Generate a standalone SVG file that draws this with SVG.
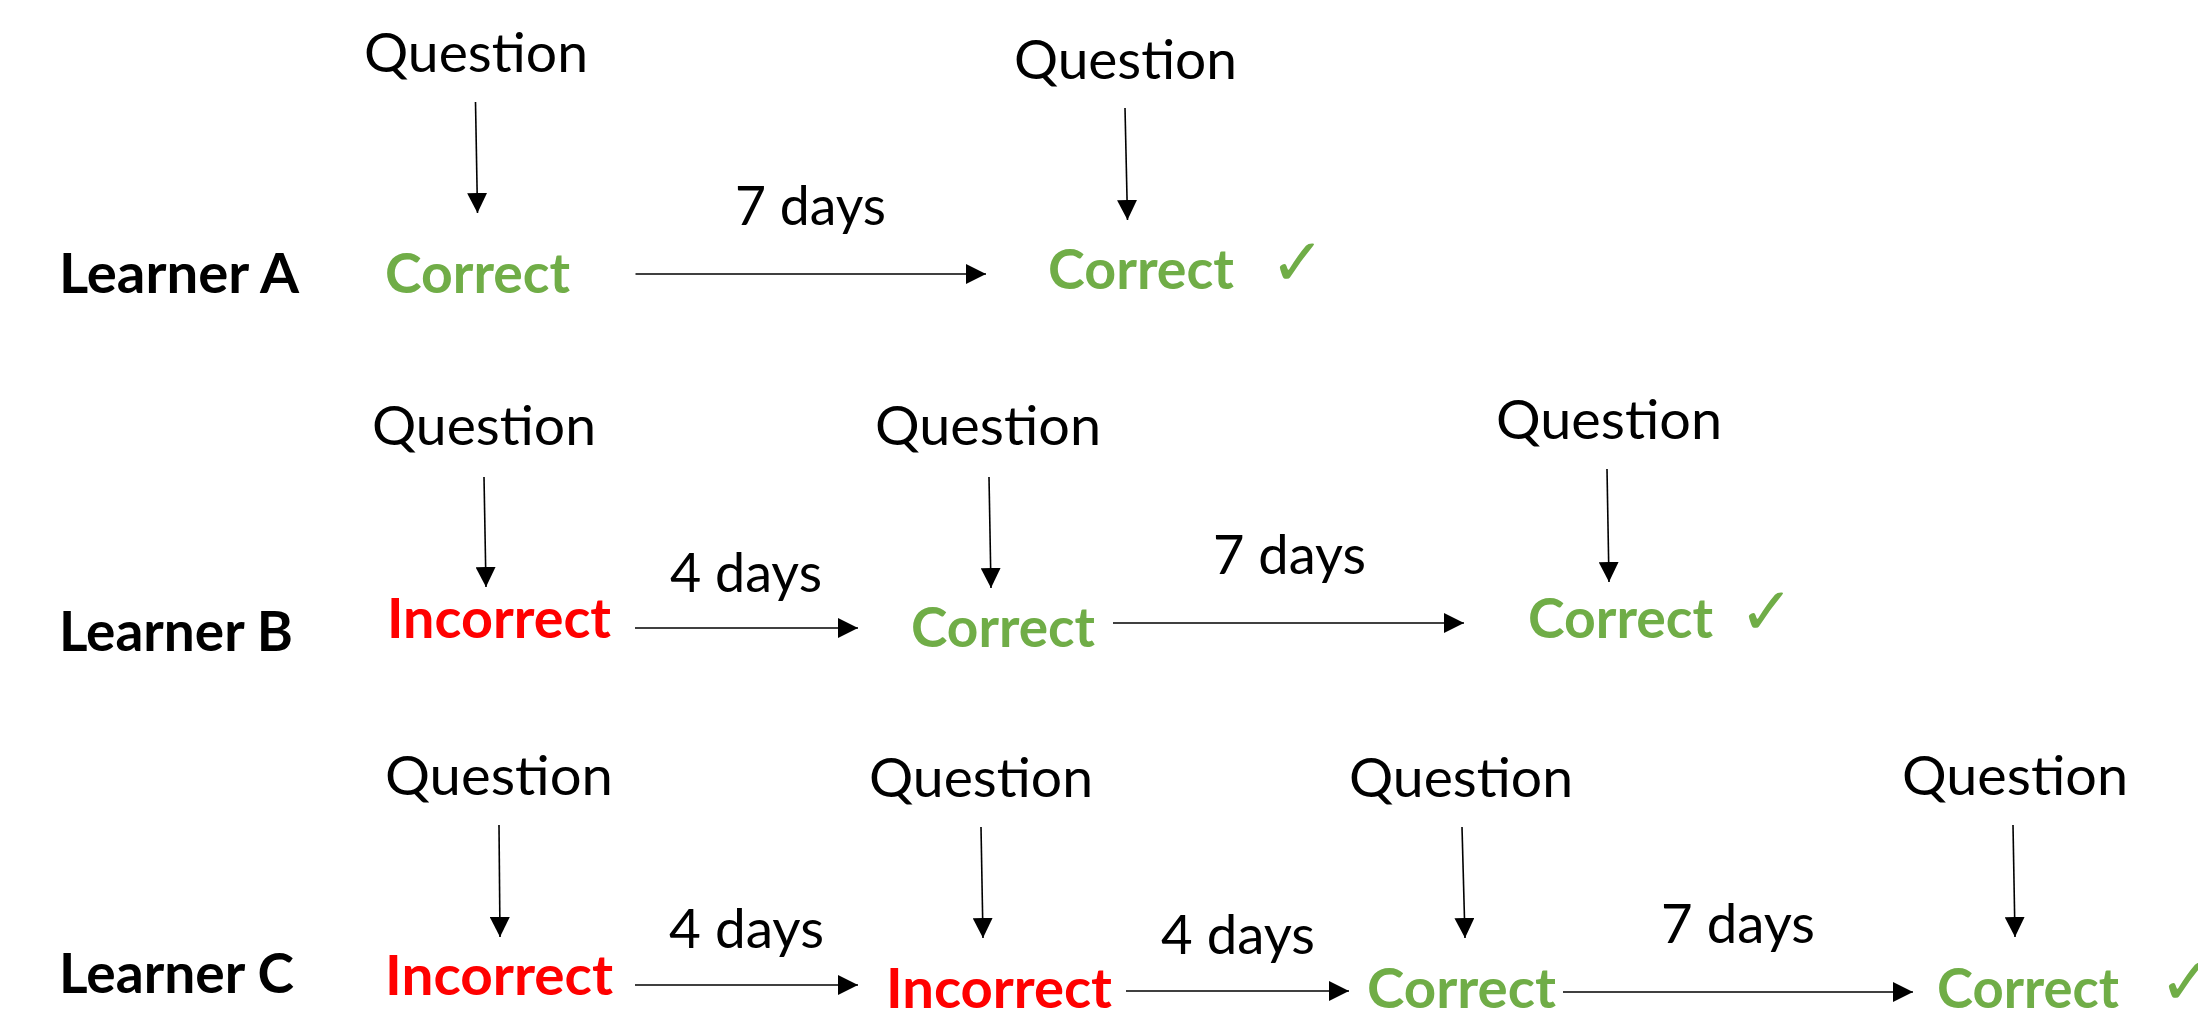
<svg xmlns="http://www.w3.org/2000/svg" width="2198" height="1013" viewBox="0 0 2198 1013">
<style>
text{font-family:Lato,"Liberation Sans",sans-serif;font-size:55px}
.q,.d{fill:#000}
.l{font-weight:bold;fill:#000}
.ok{font-weight:bold;fill:#70AD47}
.bad{font-weight:bold;fill:#FF0000}
.chk{font-family:"DejaVu Sans",sans-serif;font-size:66px;fill:#70AD47}
.c line{stroke:#000;stroke-width:1.6;marker-end:url(#ah)}
</style>
<defs>
<marker id="ah" markerUnits="userSpaceOnUse" markerWidth="20" markerHeight="20" refX="20" refY="10" orient="auto">
<path d="M0,0 L20,10 L0,20 Z" fill="#000"/>
</marker>
</defs>
<rect width="2198" height="1013" fill="#fff"/>
<g id="connectors" class="c">
<line x1="475.5" y1="102" x2="477.5" y2="213"/>
<line x1="1125" y1="108" x2="1127.5" y2="220"/>
<line x1="635.5" y1="274" x2="986" y2="274"/>
<line x1="484" y1="477" x2="486" y2="587"/>
<line x1="989" y1="477" x2="991" y2="588"/>
<line x1="1607" y1="469" x2="1609" y2="582"/>
<line x1="635" y1="628" x2="858" y2="628"/>
<line x1="1113" y1="623" x2="1464" y2="623"/>
<line x1="499" y1="825" x2="500" y2="937"/>
<line x1="981" y1="827" x2="983" y2="938"/>
<line x1="1462" y1="827" x2="1465" y2="938"/>
<line x1="2013" y1="825" x2="2015" y2="937"/>
<line x1="635" y1="985" x2="858" y2="985"/>
<line x1="1126" y1="991" x2="1349" y2="991"/>
<line x1="1563" y1="992" x2="1913" y2="992"/>
</g>
<g id="rowA">
<g id="learnerA"><text class="l" x="59" y="293" textLength="240" lengthAdjust="spacingAndGlyphs">Learner A</text></g>
<g id="qA1"><text class="q" x="364" y="72" textLength="224" lengthAdjust="spacingAndGlyphs">Question</text></g>
<g id="rA1"><text class="ok" x="385" y="293" textLength="185" lengthAdjust="spacingAndGlyphs">Correct</text></g>
<g id="dA1"><text class="d" x="735" y="225" textLength="151" lengthAdjust="spacingAndGlyphs">7 days</text></g>
<g id="qA2"><text class="q" x="1014" y="79" textLength="223" lengthAdjust="spacingAndGlyphs">Question</text></g>
<g id="rA2"><text class="ok" x="1048" y="289" textLength="186" lengthAdjust="spacingAndGlyphs">Correct</text><text class="chk" x="1270" y="285">✓</text></g>
</g>
<g id="rowB">
<g id="learnerB"><text class="l" x="59" y="651" textLength="234" lengthAdjust="spacingAndGlyphs">Learner B</text></g>
<g id="qB1"><text class="q" x="372" y="445" textLength="224" lengthAdjust="spacingAndGlyphs">Question</text></g>
<g id="rB1"><text class="bad" x="387" y="638" textLength="224" lengthAdjust="spacingAndGlyphs">Incorrect</text></g>
<g id="dB1"><text class="d" x="670" y="592" textLength="152" lengthAdjust="spacingAndGlyphs">4 days</text></g>
<g id="qB2"><text class="q" x="875" y="445" textLength="226" lengthAdjust="spacingAndGlyphs">Question</text></g>
<g id="rB2"><text class="ok" x="911" y="647" textLength="184" lengthAdjust="spacingAndGlyphs">Correct</text></g>
<g id="dB2"><text class="d" x="1213" y="574" textLength="153" lengthAdjust="spacingAndGlyphs">7 days</text></g>
<g id="qB3"><text class="q" x="1496" y="439" textLength="226" lengthAdjust="spacingAndGlyphs">Question</text></g>
<g id="rB3"><text class="ok" x="1528" y="638" textLength="185" lengthAdjust="spacingAndGlyphs">Correct</text><text class="chk" x="1739" y="634">✓</text></g>
</g>
<g id="rowC">
<g id="learnerC"><text class="l" x="59" y="993" textLength="235" lengthAdjust="spacingAndGlyphs">Learner C</text></g>
<g id="qC1"><text class="q" x="385" y="795" textLength="228" lengthAdjust="spacingAndGlyphs">Question</text></g>
<g id="rC1"><text class="bad" x="385" y="995" textLength="228" lengthAdjust="spacingAndGlyphs">Incorrect</text></g>
<g id="dC1"><text class="d" x="669" y="948" textLength="155" lengthAdjust="spacingAndGlyphs">4 days</text></g>
<g id="qC2"><text class="q" x="869" y="797" textLength="224" lengthAdjust="spacingAndGlyphs">Question</text></g>
<g id="rC2"><text class="bad" x="886" y="1008" textLength="226" lengthAdjust="spacingAndGlyphs">Incorrect</text></g>
<g id="dC2"><text class="d" x="1161" y="954" textLength="154" lengthAdjust="spacingAndGlyphs">4 days</text></g>
<g id="qC3"><text class="q" x="1349" y="797" textLength="224" lengthAdjust="spacingAndGlyphs">Question</text></g>
<g id="rC3"><text class="ok" x="1367" y="1008" textLength="189" lengthAdjust="spacingAndGlyphs">Correct</text></g>
<g id="dC3"><text class="d" x="1661" y="943" textLength="154" lengthAdjust="spacingAndGlyphs">7 days</text></g>
<g id="qC4"><text class="q" x="1902" y="795" textLength="226" lengthAdjust="spacingAndGlyphs">Question</text></g>
<g id="rC4"><text class="ok" x="1937" y="1008" textLength="182" lengthAdjust="spacingAndGlyphs">Correct</text><text class="chk" x="2159" y="1004">✓</text></g>
</g>
</svg>
